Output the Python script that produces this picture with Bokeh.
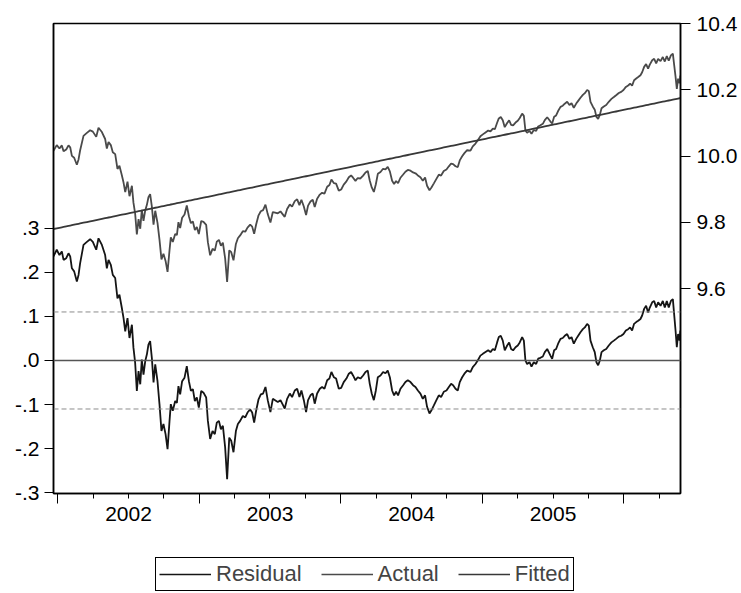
import numpy as np
from bokeh.plotting import figure
from bokeh.layouts import column
from bokeh.models import Range1d, LinearAxis, FixedTicker, Span, Legend, LegendItem
from bokeh.embed import file_html
from bokeh.resources import INLINE

# Observation times (decimal years) and regression residuals
obs_time = [
    2001.970, 2001.993, 2002.012, 2002.029, 2002.041, 2002.060, 2002.076, 2002.088, 2002.100, 2002.116,
    2002.135, 2002.147, 2002.158, 2002.182, 2002.206, 2002.229, 2002.248, 2002.272, 2002.288, 2002.312,
    2002.335, 2002.347, 2002.359, 2002.375, 2002.389, 2002.406, 2002.422, 2002.436, 2002.453, 2002.465,
    2002.477, 2002.493, 2002.507, 2002.524, 2002.535, 2002.547, 2002.559, 2002.571, 2002.583, 2002.594,
    2002.606, 2002.618, 2002.630, 2002.641, 2002.653, 2002.665, 2002.677, 2002.689, 2002.705, 2002.719,
    2002.733, 2002.747, 2002.762, 2002.776, 2002.790, 2002.799, 2002.813, 2002.830, 2002.842, 2002.853,
    2002.865, 2002.879, 2002.896, 2002.912, 2002.927, 2002.941, 2002.955, 2002.969, 2002.983, 2002.997,
    2003.014, 2003.030, 2003.049, 2003.061, 2003.077, 2003.094, 2003.110, 2003.124, 2003.139, 2003.153,
    2003.167, 2003.183, 2003.197, 2003.212, 2003.226, 2003.242, 2003.259, 2003.273, 2003.289, 2003.308,
    2003.325, 2003.341, 2003.360, 2003.374, 2003.388, 2003.402, 2003.419, 2003.435,
    2003.451, 2003.468, 2003.484, 2003.503, 2003.520, 2003.536, 2003.555, 2003.574, 2003.593, 2003.604,
    2003.621, 2003.640, 2003.656, 2003.675, 2003.692, 2003.708, 2003.722, 2003.739, 2003.755, 2003.769,
    2003.786, 2003.802, 2003.816, 2003.833, 2003.852, 2003.868, 2003.885, 2003.904, 2003.920, 2003.934,
    2003.951, 2003.967, 2003.986, 2004.003, 2004.021, 2004.040, 2004.057, 2004.073, 2004.087, 2004.104,
    2004.120, 2004.139, 2004.158, 2004.175, 2004.191, 2004.205, 2004.219, 2004.234, 2004.248, 2004.262,
    2004.281, 2004.299, 2004.316, 2004.332, 2004.347, 2004.363, 2004.377, 2004.391, 2004.405, 2004.422,
    2004.441, 2004.457, 2004.474, 2004.493, 2004.511, 2004.528, 2004.545, 2004.563, 2004.580, 2004.596,
    2004.610, 2004.627, 2004.641, 2004.658, 2004.676, 2004.693, 2004.709, 2004.728, 2004.747, 2004.764,
    2004.780, 2004.794, 2004.811, 2004.827, 2004.841, 2004.858, 2004.874, 2004.893, 2004.917,
    2004.933, 2004.952, 2004.968, 2004.987, 2005.004, 2005.023, 2005.042, 2005.058, 2005.075, 2005.089,
    2005.105, 2005.117, 2005.131, 2005.145, 2005.159, 2005.176, 2005.190, 2005.204, 2005.218, 2005.235,
    2005.251, 2005.265, 2005.282, 2005.294, 2005.305, 2005.317, 2005.334, 2005.348, 2005.364, 2005.381,
    2005.395, 2005.411, 2005.428, 2005.442, 2005.459, 2005.470, 2005.482, 2005.494, 2005.508, 2005.522,
    2005.536, 2005.553, 2005.569, 2005.583, 2005.600, 2005.616, 2005.631, 2005.647, 2005.664, 2005.678,
    2005.694, 2005.711, 2005.725, 2005.741, 2005.753, 2005.765, 2005.781, 2005.795, 2005.807, 2005.819,
    2005.831, 2005.843, 2005.859, 2005.876, 2005.894, 2005.913, 2005.930, 2005.946, 2005.965, 2005.982,
    2005.998, 2006.015, 2006.031, 2006.045, 2006.059, 2006.073, 2006.088, 2006.102, 2006.118, 2006.130,
    2006.144, 2006.158, 2006.172, 2006.184, 2006.201, 2006.215, 2006.229, 2006.243, 2006.260, 2006.276,
    2006.290, 2006.304, 2006.318, 2006.333, 2006.347, 2006.356, 2006.366, 2006.375, 2006.384, 2006.394,
    2006.400,
]
residual = [
    0.236, 0.251, 0.239, 0.247, 0.228, 0.232, 0.243, 0.236, 0.209, 0.202,
    0.179, 0.194, 0.220, 0.262, 0.269, 0.275, 0.269, 0.251, 0.277, 0.262,
    0.239, 0.209, 0.228, 0.217, 0.194, 0.187, 0.141, 0.149, 0.119, 0.096,
    0.066, 0.096, 0.051, 0.081, 0.029, -0.005, -0.069, -0.024, -0.054, 0.002,
    -0.032, -0.002, 0.014, 0.036, 0.044, 0.006, -0.050, -0.009, -0.047, -0.099,
    -0.160, -0.144, -0.167, -0.201, -0.137, -0.099, -0.114, -0.092, -0.096, -0.058,
    -0.077, -0.047, -0.039, -0.013, -0.047, -0.069, -0.065, -0.092, -0.084, -0.107,
    -0.069, -0.073, -0.084, -0.137, -0.178, -0.160, -0.167, -0.141, -0.137, -0.156,
    -0.148, -0.197, -0.269, -0.175, -0.182, -0.208, -0.160, -0.144, -0.137, -0.126,
    -0.129, -0.118, -0.111, -0.118, -0.141, -0.114, -0.088, -0.077,
    -0.075, -0.060, -0.090, -0.117, -0.087, -0.090, -0.094, -0.090, -0.102, -0.109,
    -0.087, -0.075, -0.083, -0.068, -0.064, -0.083, -0.068, -0.090, -0.117, -0.090,
    -0.079, -0.075, -0.098, -0.075, -0.064, -0.060, -0.064, -0.045, -0.041, -0.026,
    -0.038, -0.041, -0.064, -0.062, -0.049, -0.041, -0.030, -0.026, -0.034, -0.045,
    -0.038, -0.041, -0.034, -0.026, -0.023, -0.053, -0.075, -0.090, -0.068, -0.038,
    -0.034, -0.026, -0.029, -0.023, -0.038, -0.068, -0.079, -0.071, -0.079, -0.064,
    -0.056, -0.049, -0.045, -0.049, -0.056, -0.060, -0.068, -0.075, -0.087, -0.079,
    -0.105, -0.120, -0.113, -0.102, -0.090, -0.079, -0.083, -0.071, -0.068, -0.060,
    -0.053, -0.056, -0.064, -0.068, -0.049, -0.038, -0.030, -0.023, -0.026,
    -0.015, -0.008, 0.000, 0.011, 0.015, 0.019, 0.023, 0.019, 0.026, 0.023,
    0.041, 0.053, 0.056, 0.045, 0.023, 0.034, 0.041, 0.026, 0.023, 0.030,
    0.034, 0.041, 0.053, 0.045, 0.000, -0.008, -0.004, -0.014, -0.004, -0.008,
    0.004, 0.006, 0.009, 0.019, 0.026, 0.019, 0.011, 0.004, 0.023, 0.026,
    0.038, 0.049, 0.051, 0.056, 0.060, 0.049, 0.053, 0.038, 0.049, 0.056,
    0.064, 0.071, 0.075, 0.083, 0.079, 0.045, 0.030, 0.019, -0.004, -0.011,
    0.000, 0.019, 0.023, 0.026, 0.034, 0.041, 0.045, 0.049, 0.054, 0.056,
    0.060, 0.068, 0.071, 0.075, 0.068, 0.083, 0.087, 0.090, 0.094, 0.102,
    0.117, 0.124, 0.109, 0.120, 0.132, 0.135, 0.120, 0.132, 0.124, 0.135,
    0.120, 0.135, 0.120, 0.135, 0.139, 0.105, 0.068, 0.030, 0.060, 0.045,
    0.068,
]

# Linear trend fit: fitted level at the first and last observation
fitted_first = 9.780
fitted_last = 10.175
std_error = 0.110

series_names = ["Residual", "Actual", "Fitted"]
series_colors = ["#151515", "#4a4a4a", "#383838"]

t = np.array(obs_time)
res = np.array(residual)
fitted = fitted_first + (fitted_last - fitted_first) * (t - t[0]) / (t[-1] - t[0])
actual = fitted + res
series = [(res, "default"), (actual, "level"), (fitted, "level")]

FONT = "Liberation Sans"
LW = 1.8

p = figure(width=741, height=553, output_backend="svg", toolbar_location=None,
           x_range=Range1d(2001.970, 2006.401), y_range=Range1d(-0.3016, 0.764),
           x_axis_location=None, y_axis_location=None,
           min_border_left=53, min_border_right=61, min_border_top=23, min_border_bottom=60)
p.extra_y_ranges = {"level": Range1d(8.982, 10.4)}
p.xgrid.visible = False
p.ygrid.visible = False
p.outline_line_color = "black"
p.outline_line_width = 1.5
p.background_fill_color = "white"
p.border_fill_color = "white"

# Reference lines for the residual: zero and +/- one standard error
p.add_layout(Span(location=0, dimension="width", line_color="#555555", line_width=1.6))
for s in (std_error, -std_error):
    p.add_layout(Span(location=s, dimension="width", line_color="#8c8c8c",
                      line_width=1, line_dash="5 3"))

for (vals, rng), color in zip(series, series_colors):
    p.line(t, vals, line_color=color, line_width=LW, y_range_name=rng)

def style_axis(ax):
    ax.axis_line_color = "black"
    ax.axis_line_width = 1.5
    ax.major_tick_line_color = "black"
    ax.minor_tick_line_color = "black"
    ax.major_tick_in = 0
    ax.minor_tick_in = 0
    ax.major_label_text_font = FONT
    ax.major_label_text_font_size = "21px"
    ax.major_label_text_color = "black"

# Left axis: residual scale
res_ticks = [-0.3, -0.2, -0.1, 0.0, 0.1, 0.2, 0.3]
res_labels = ["-.3", "-.2", "-.1", ".0", ".1", ".2", ".3"]
left = LinearAxis(ticker=FixedTicker(ticks=res_ticks, minor_ticks=[]),
                  major_label_overrides=dict(zip(res_ticks, res_labels)))
style_axis(left)
left.major_tick_out = 9
left.major_label_standoff = 5
p.add_layout(left, "left")

# Right axis: level scale
lvl_ticks = [9.6, 9.8, 10.0, 10.2, 10.4]
lvl_labels = ["9.6", "9.8", "10.0", "10.2", "10.4"]
right = LinearAxis(y_range_name="level", ticker=FixedTicker(ticks=lvl_ticks, minor_ticks=[]),
                   major_label_overrides=dict(zip(lvl_ticks, lvl_labels)))
style_axis(right)
right.major_tick_out = 10
right.major_label_standoff = 6
p.add_layout(right, "right")

# Bottom axis: quarter ticks, long ticks at year starts, year labels mid-year
years = [2002, 2003, 2004, 2005, 2006]
quarters = [y + q for y in years for q in (0.25, 0.5, 0.75) if y + q < 2006.4]
year_labels = {y + 0.5: str(y) for y in [2002, 2003, 2004, 2005]}
bottom = LinearAxis(ticker=FixedTicker(ticks=quarters, minor_ticks=years),
                    major_label_overrides={q: year_labels.get(q, "") for q in quarters})
style_axis(bottom)
bottom.major_tick_out = 5
bottom.minor_tick_out = 10
bottom.major_label_standoff = 3
p.add_layout(bottom, "below")

# Legend strip underneath the chart; its lines carry the same series but the
# strip's vertical range keeps them out of view, so only the key is drawn
leg = figure(width=741, height=40, output_backend="svg", toolbar_location=None,
             x_axis_location=None, y_axis_location=None,
             x_range=Range1d(2001.970, 2006.401), y_range=Range1d(100, 101),
             min_border_left=0, min_border_right=0, min_border_top=0, min_border_bottom=0)
leg.xgrid.visible = False
leg.ygrid.visible = False
leg.outline_line_color = None
leg.background_fill_color = "white"
leg.border_fill_color = "white"
items = []
for name, (vals, _), color in zip(series_names, series, series_colors):
    r = leg.line(t, vals, line_color=color, line_width=1.3)
    items.append(LegendItem(label=name, renderers=[r]))
legend = Legend(items=items, orientation="horizontal", location=(102, 2),
                border_line_color="black", border_line_width=1, border_line_alpha=1,
                glyph_width=52, glyph_height=20, label_standoff=5, spacing=19,
                padding=3, margin=0,
                label_text_font=FONT, label_text_font_size="22px",
                background_fill_color="white", background_fill_alpha=1)
leg.add_layout(legend)

layout = column(p, leg, spacing=0)
open("out.html", "w").write(file_html(layout, INLINE))
